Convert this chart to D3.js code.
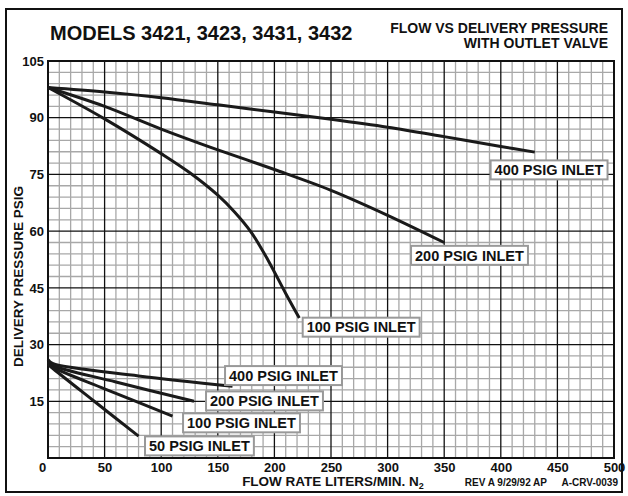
<!DOCTYPE html>
<html>
<head>
<meta charset="utf-8">
<script src="https://cdn.jsdelivr.net/npm/d3@7"></script>
<style>
  body { margin: 0; background: #fff; }
  svg text { font-family: Arial, "Liberation Sans", Helvetica, sans-serif; font-weight: bold; fill: #111; }
</style>
</head>
<body>
<div id="vis"></div>
<script>
// flow (liters/min N2) vs delivery pressure (psig)
const hi400 = [[0, 98], [50, 96.8], [100, 95.3], [150, 93.4], [200, 91.5], [250, 89.6], [300, 87.5], [350, 85], [400, 82.4], [430, 80.9]];
const hi200 = [[0, 98], [50, 93], [100, 87], [150, 81.5], [200, 76.3], [250, 70.8], [300, 64.2], [350, 57]];
const hi100 = [[0, 98], [50, 89.7], [100, 80.5], [125, 75.5], [150, 69.5], [165, 65], [180, 59.5], [195, 52], [210, 43.5], [222, 37]];
const lo400 = [[0, 26], [4, 25], [80, 21.7], [163, 19]];
const lo200 = [[0, 25.5], [4, 24.5], [60, 20.1], [129, 15]];
const lo100 = [[0, 25.2], [4, 24.1], [50, 18.3], [110, 11.1]];
const lo50 = [[0, 24.8], [3, 24], [40, 15.2], [80, 5.8]];

const curveNames = ["400 PSIG INLET", "200 PSIG INLET", "100 PSIG INLET", "400 PSIG INLET", "200 PSIG INLET", "100 PSIG INLET", "50 PSIG INLET"];
// label box anchor: [left flow, centre pressure]
const labelAt = [[391, 76.2], [320.7, 53.6], [225, 34.6], [156.4, 21.8], [139.6, 15.1], [119.3, 9.3], [85.7, 3.2]];

const xTicks = d3.range(0, 501, 50);
const yTicks = d3.range(15, 106, 15);

const curves = [hi400, hi200, hi100, lo400, lo200, lo100, lo50];

var W = 628, H = 496;
var svg = d3.select("#vis").append("svg")
    .attr("width", W)
    .attr("height", H);

var x = d3.scaleLinear().domain([0, 500]).range([48, 614]);
var y = d3.scaleLinear().domain([0, 105]).range([458, 61]);

// outer frame
svg.append("rect")
    .attr("x", 6).attr("y", 9)
    .attr("width", 616).attr("height", 483)
    .attr("fill", "none")
    .attr("stroke", "#111")
    .attr("stroke-width", 2);

// titles
svg.append("text")
    .attr("x", 50).attr("y", 40)
    .style("font-size", "20px")
    .text("MODELS 3421, 3423, 3431, 3432");

svg.append("text")
    .attr("x", 608).attr("y", 33)
    .attr("text-anchor", "end")
    .style("font-size", "14px")
    .text("FLOW VS DELIVERY PRESSURE");
svg.append("text")
    .attr("x", 608).attr("y", 48)
    .attr("text-anchor", "end")
    .style("font-size", "14px")
    .text("WITH OUTLET VALVE");

// grid
var grid = svg.append("g").attr("class", "grid");
{
    var minorX = d3.range(10, 500, 10).filter(d => d % 50 != 0);
    var minorY = d3.range(3, 105, 3).filter(d => d % 15 != 0);

    grid.selectAll("line.mx").data(minorX).enter().append("line")
        .attr("class", "mx")
        .attr("x1", d => x(d)).attr("x2", d => x(d))
        .attr("y1", y(0)).attr("y2", y(105))
        .attr("stroke", "#a8a8a8").attr("stroke-width", 1.3);
    grid.selectAll("line.my").data(minorY).enter().append("line")
        .attr("class", "my")
        .attr("y1", d => y(d)).attr("y2", d => y(d))
        .attr("x1", x(0)).attr("x2", x(500))
        .attr("stroke", "#a8a8a8").attr("stroke-width", 1.3);

    grid.selectAll("line.Mx").data(xTicks.slice(1, -1)).enter().append("line")
        .attr("class", "Mx")
        .attr("x1", d => x(d)).attr("x2", d => x(d))
        .attr("y1", y(0)).attr("y2", y(105))
        .attr("stroke", "#111").attr("stroke-width", 1.3);
    grid.selectAll("line.My").data(yTicks.slice(0, -1)).enter().append("line")
        .attr("class", "My")
        .attr("y1", d => y(d)).attr("y2", d => y(d))
        .attr("x1", x(0)).attr("x2", x(500))
        .attr("stroke", "#111").attr("stroke-width", 1.3);

    grid.append("rect")
        .attr("x", x(0)).attr("y", y(105))
        .attr("width", x(500) - x(0)).attr("height", y(0) - y(105))
        .attr("fill", "none")
        .attr("stroke", "#111").attr("stroke-width", 2);
}

// axes
var xAxis = d3.axisBottom(x).tickValues(xTicks).tickSize(0).tickPadding(5);
var yAxis = d3.axisLeft(y).tickValues(yTicks).tickSize(0).tickPadding(4);

var gx = svg.append("g")
    .attr("class", "x axis")
    .attr("transform", "translate(0," + y(0) + ")")
    .call(xAxis);
var gy = svg.append("g")
    .attr("class", "y axis")
    .attr("transform", "translate(" + x(0) + ",0)")
    .call(yAxis);
svg.selectAll(".axis .domain").remove();
svg.selectAll(".axis text")
    .style("font-size", "13px")
    .style("font-family", "Arial, 'Liberation Sans', sans-serif")
    .style("font-weight", "bold")
    .attr("fill", "#111");
gx.selectAll(".tick").filter(d => d == 0).select("text").attr("x", -6);

// axis titles
var xt = svg.append("text")
    .attr("x", x(250) + 2).attr("y", 486)
    .attr("text-anchor", "middle")
    .style("font-size", "13.5px");
xt.append("tspan").text("FLOW RATE LITERS/MIN. N");
xt.append("tspan").attr("dy", 3).style("font-size", "9px").text("2");

svg.append("text")
    .attr("transform", "translate(23," + ((y(0) + y(105)) / 2 + 17) + ") rotate(-90)")
    .attr("text-anchor", "middle")
    .style("font-size", "13.5px")
    .text("DELIVERY PRESSURE PSIG");

svg.append("text")
    .attr("x", 547).attr("y", 486)
    .attr("text-anchor", "end")
    .style("font-size", "10px")
    .text("REV A 9/29/92 AP");
svg.append("text")
    .attr("x", 618).attr("y", 486)
    .attr("text-anchor", "end")
    .style("font-size", "10px")
    .text("A-CRV-0039");

// curves
var line = d3.line()
    .x(d => x(d[0]))
    .y(d => y(d[1]))
    .curve(d3.curveCatmullRom.alpha(0.5));

svg.append("g").attr("class", "curves")
    .selectAll("path")
    .data(curves)
    .enter().append("path")
    .attr("d", line)
    .attr("fill", "none")
    .attr("stroke", "#1a1a1a")
    .attr("stroke-width", 3)
    .attr("stroke-linecap", "butt");

// inlet labels
var labels = svg.append("g").attr("class", "labels")
    .selectAll("g")
    .data(curveNames)
    .enter().append("g")
    .attr("transform", (d, i) => "translate(" + x(labelAt[i][0]) + "," + y(labelAt[i][1]) + ")");

labels.append("rect")
    .attr("fill", "#fff")
    .attr("stroke", "#999")
    .attr("stroke-width", 2);

labels.append("text")
    .attr("x", 4)
    .attr("dy", "0.36em")
    .style("font-size", "14.5px")
    .text(d => d);

labels.each(function () {
    var g = d3.select(this);
    var bb = g.select("text").node().getBBox();
    g.select("rect")
        .attr("x", 0).attr("y", -9.5)
        .attr("width", bb.width + 8).attr("height", 19);
});
</script>
</body>
</html>
